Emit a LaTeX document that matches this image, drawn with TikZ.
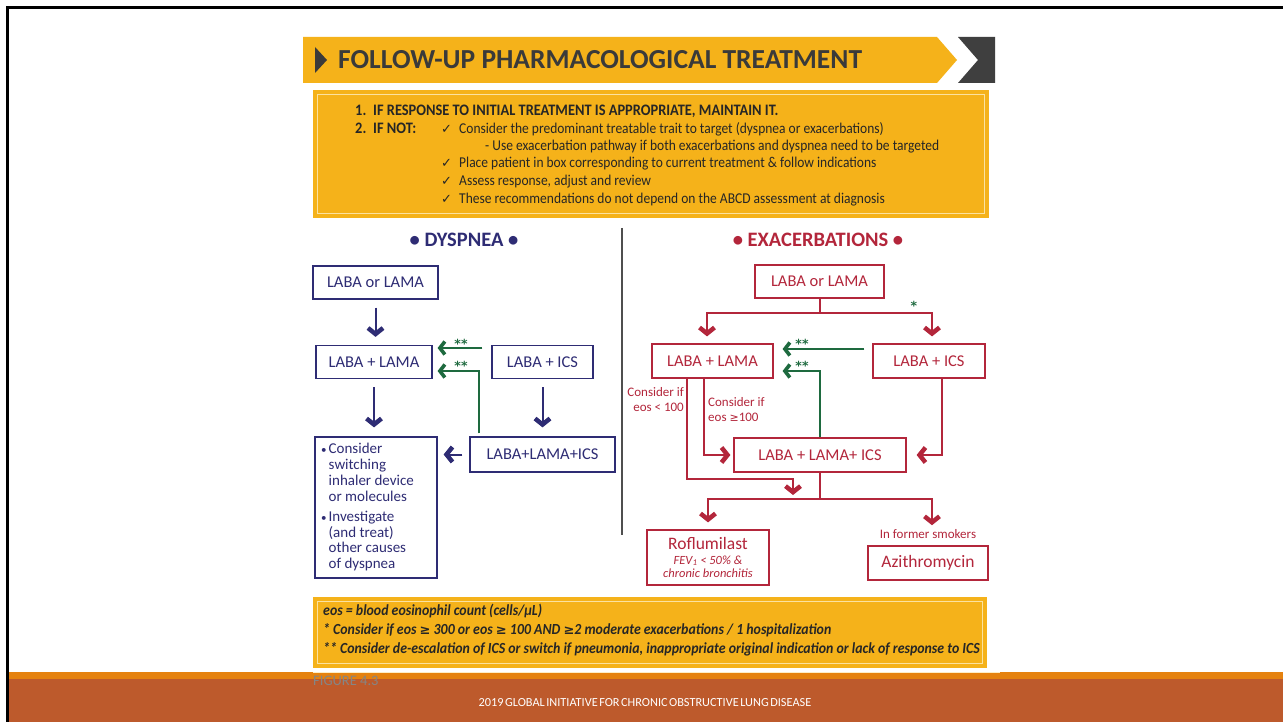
\documentclass[tikz,border=0pt]{standalone}
\usepackage{fontspec}
\setmainfont{Carlito}
\newfontfamily\symfont{DejaVu Sans}
\newfontfamily\cond[FakeStretch=0.9]{Carlito}
\usetikzlibrary{arrows.meta,calc}
\definecolor{gold}{HTML}{F5B21A}
\definecolor{goldline}{HTML}{FBE2A0}
\definecolor{darkchev}{HTML}{3F3F3F}
\definecolor{titletext}{HTML}{3A3A3A}
\definecolor{bodytext}{HTML}{262626}
\definecolor{navy}{HTML}{2E2C74}
\definecolor{crim}{HTML}{B3263B}
\definecolor{dgreen}{HTML}{1E6A3F}
\definecolor{divgray}{HTML}{4F4F4F}
\definecolor{bandorange}{HTML}{E5820F}
\definecolor{bandrust}{HTML}{BD5A2C}
\definecolor{figgray}{HTML}{858585}
\begin{document}
\begin{tikzpicture}[x=1pt,y=-1pt,
  flow/.style={draw, line width=1.2pt, inner sep=0pt, align=center, font=\fontsize{16.5}{19}\selectfont},
  nbox/.style={flow, draw=navy, text=navy},
  rbox/.style={flow, draw=crim, text=crim},
  nline/.style={draw=navy, line width=2pt},
  rline/.style={draw=crim, line width=2pt},
  gline/.style={draw=dgreen, line width=2pt},
  bighead/.style={-{Straight Barb[length=6pt,width=15pt,line width=4.5pt,sharp]}},
  smallhead/.style={-{Straight Barb[length=5pt,width=13pt,line width=3.6pt,sharp]}},
  instr/.style={anchor=base west, inner sep=0pt, text=bodytext, font=\cond\fontsize{15}{17}\selectfont},
  instrb/.style={instr, font=\cond\fontsize{16}{18}\selectfont\bfseries},
  note/.style={anchor=base west, inner sep=0pt, text=bodytext, font=\cond\fontsize{15.4}{17}\selectfont\bfseries\itshape},
  stars/.style={inner sep=0pt, text=dgreen, font=\symfont\fontsize{12.5}{12.5}\selectfont\bfseries},
  rsmall/.style={inner sep=0pt, text=crim, font=\fontsize{13}{15.5}\selectfont},
  header/.style={inner sep=0pt, font=\fontsize{20.5}{24}\selectfont\bfseries},
]
\useasboundingbox (0,0) rectangle (1283,722);
\fill[white] (0,0) rectangle (1283,722);
% frame
\fill[black] (6,6.5) rectangle (1283,9.5);
\fill[black] (6,6.5) rectangle (9,722);
% footer band
\fill[bandorange] (9,672) rectangle (1283,679);
\fill[bandrust] (9,679) rectangle (1283,722);

% ---- title banner
\fill[gold] (303,37) -- (937,37) -- (957,60) -- (937,83) -- (303,83) -- cycle;
\fill[darkchev] (958,37) -- (995,37) -- (995,83) -- (958,83) -- (978,60) -- cycle;
\fill[titletext] (315,47) -- (327,60) -- (315,73) -- cycle;
\node[anchor=base west, inner sep=0pt, text=titletext, font=\fontsize{27.5}{30}\selectfont\bfseries] (title) at (338,69) {FOLLOW-UP PHARMACOLOGICAL TREATMENT};

% ---- instruction box
\fill[gold] (313,90) rectangle (989,218);
\draw[goldline, line width=1.2pt] (317.5,94.5) rectangle (984.5,213.5);
\node[instrb] (n1) at (355,115.8) {1.};
\node[instrb] (n1t) at (373,115.8) {IF RESPONSE TO INITIAL TREATMENT IS APPROPRIATE, MAINTAIN IT.};
\node[instrb] (n2) at (355,133.8) {2.};
\node[instrb] (n2t) at (373,133.8) {IF NOT:};
\node[instr] (k1) at (441,133.8) {{\symfont\fontsize{13}{15}\selectfont ✓}};
\node[instr] (l1) at (459,133.8) {Consider the predominant treatable trait to target (dyspnea or exacerbations)};
\node[instr] (l2) at (485,150.8) {- Use exacerbation pathway if both exacerbations and dyspnea need to be targeted};
\node[instr] (k3) at (441,167.8) {{\symfont\fontsize{13}{15}\selectfont ✓}};
\node[instr] (l3) at (459,167.8) {Place patient in box corresponding to current treatment \& follow indications};
\node[instr] (k4) at (441,185.8) {{\symfont\fontsize{13}{15}\selectfont ✓}};
\node[instr] (l4) at (459,185.8) {Assess response, adjust and review};
\node[instr] (k5) at (441,203.8) {{\symfont\fontsize{13}{15}\selectfont ✓}};
\node[instr] (l5) at (459,203.8) {These recommendations do not depend on the ABCD assessment at diagnosis};

% ---- divider
\draw[divgray, line width=2pt] (622,228) -- (622,535);

% ---- headers
\node[header, text=navy] (hd) at (464,240) {• DYSPNEA •};
\node[header, text=crim] (he) at (818,240) {• EXACERBATIONS •};

% ---- dyspnea side
\node[nbox, minimum width=125pt, minimum height=33pt] (D1) at (375.5,282.5) {LABA or LAMA};
\node[nbox, minimum width=116pt, minimum height=33pt] (D2) at (374,362) {LABA + LAMA};
\node[nbox, minimum width=101pt, minimum height=33pt] (D3) at (542.5,362) {LABA + ICS};
\node[nbox, minimum width=145pt, minimum height=35pt] (D4) at (542.5,454.5) {LABA+LAMA+ICS};
\node[nbox, minimum width=122pt, minimum height=141pt] (D5) at (376,507.5) {};
\node[anchor=north west, inner sep=0pt, align=left, text=navy, font=\fontsize{15}{15.8}\selectfont] (D5t) at (321,443) {%
\makebox[7.5pt][l]{\fontsize{11}{11}\selectfont•}Consider\\
\hspace*{7.5pt}switching\\
\hspace*{7.5pt}inhaler device\\
\hspace*{7.5pt}or molecules\\[4.5pt]
\makebox[7.5pt][l]{\fontsize{11}{11}\selectfont•}Investigate\\
\hspace*{7.5pt}(and treat)\\
\hspace*{7.5pt}other causes\\
\hspace*{7.5pt}of dyspnea};

\draw[nline, bighead, shorten <=8pt, shorten >=8pt] (D1.south) -- (D1.south |- D2.north);
\draw[nline, bighead, shorten <=8pt, shorten >=9pt] (D2.south) -- (D2.south |- D5.north);
\draw[nline, bighead, shorten <=8pt, shorten >=9pt] (D3.south) -- (D3.south |- D4.north);
\draw[nline, bighead, shorten <=7pt, shorten >=6pt] (D4.west) -- (D4.west -| D5.east);

\draw[gline, smallhead, shorten <=9pt, shorten >=5pt] ([yshift=14pt]D3.west) -- ([yshift=14pt]D2.east);
\draw[gline, smallhead, shorten <=3pt, shorten >=5pt] ([xshift=10pt]D4.north west) |- ([yshift=-9pt]D2.east);
\node[stars] (sd1) at (461,343.5) {**};
\node[stars] (sd2) at (461,365.5) {**};

% ---- exacerbation side
\node[rbox, minimum width=129pt, minimum height=33pt] (E1) at (819.5,281.5) {LABA or LAMA};
\node[rbox, minimum width=121pt, minimum height=34pt] (E2) at (712.5,361) {LABA + LAMA};
\node[rbox, minimum width=112pt, minimum height=34pt] (E3) at (929,361) {LABA + ICS};
\node[rbox, minimum width=172pt, minimum height=34pt] (E4) at (820,455) {LABA + LAMA+ ICS};
\node[rbox, minimum width=122pt, minimum height=55pt] (E5) at (708,557.5) {};
\node[anchor=base, inner sep=0pt, text=crim, font=\fontsize{17.5}{20}\selectfont] (E5a) at (708,549) {Roflumilast};
\node[anchor=base, inner sep=0pt, text=crim, font=\fontsize{12.5}{14}\selectfont\itshape] (E5b) at (708,564) {FEV\textsubscript{1} < 50\% \&};
\node[anchor=base, inner sep=0pt, text=crim, font=\fontsize{12.5}{14}\selectfont\itshape] (E5c) at (708,577) {chronic bronchitis};
\node[rbox, minimum width=120pt, minimum height=34pt, font=\fontsize{17.5}{20}\selectfont] (E6) at (928,563) {Azithromycin};
\node[rsmall] (smk) at (928,534) {In former smokers};

\draw[rline] (E1.south) -- ++(0,14) coordinate (b1);
\draw[rline, bighead, shorten >=7pt] (b1) -| ([xshift=-5.5pt]E2.north);
\draw[rline, bighead, shorten >=7pt] (b1) -| ([xshift=3pt]E3.north);
\node[stars] (se0) at (914,305.5) {*};

\coordinate (j1) at ($(E2.south)+(-25.5,100)$);
\coordinate (jt) at (793,495);
\draw[rline, bighead] ([xshift=-25.5pt]E2.south) -- (j1) -| (jt);
\draw[rline, bighead, shorten >=3pt] ([xshift=-8.5pt]E2.south) |- (E4.west);
\draw[rline, bighead, shorten >=10pt] ([xshift=13pt]E3.south) |- (E4.east);

\draw[rline] (E4.south) -- ++(0,26) coordinate (b2);
\draw[rline, bighead, shorten >=7pt] (b2) -| (E5.north);
\draw[rline, bighead, shorten >=4pt] (b2) -| ([xshift=4pt]smk.north);

\node[rsmall, anchor=north east, align=right] (lt) at (684,387) {Consider if\\eos < 100};
\node[rsmall, anchor=north west, align=left] (ge) at (708,397) {Consider if\\eos {\symfont\fontsize{11}{13}\selectfont ≥}100};

\draw[gline, smallhead, shorten <=8pt, shorten >=9pt] ([yshift=12pt]E3.west) -- ([yshift=12pt]E2.east);
\draw[gline, smallhead, shorten >=9pt] (E4.north) |- ([yshift=-10pt]E2.east);
\node[stars] (se1) at (802,343.5) {**};
\node[stars] (se2) at (802,365.5) {**};

% ---- notes box
\fill[gold] (313,597) rectangle (987,668);
\draw[goldline, line width=1.2pt] (317.5,601.5) rectangle (982.5,663.5);
\node[note] (m1) at (323,615.5) {eos = blood eosinophil count (cells/µL)};
\node[note] (m2) at (323,634.5) {* Consider if eos {\symfont\fontsize{13}{15}\selectfont ≥} 300 or eos {\symfont\fontsize{13}{15}\selectfont ≥} 100 AND {\symfont\fontsize{13}{15}\selectfont ≥}2 moderate exacerbations / 1 hospitalization};
\node[note] (m3) at (323,653.5) {** Consider de-escalation of ICS or switch if pneumonia, inappropriate original indication or lack of response to ICS};

% ---- footer
\draw[goldline!60!white, line width=1.5pt] (313,672.5) -- (1000,672.5);
\node[anchor=west, inner sep=0pt, text=figgray, font=\fontsize{14.5}{16}\selectfont] (fig) at (313,681) {FIGURE 4.3};
\node[inner sep=0pt, text=white, font=\fontsize{12.3}{14}\selectfont] (foot) at (645,703) {\spaceskip=1.5pt 2019 GLOBAL INITIATIVE FOR CHRONIC OBSTRUCTIVE LUNG DISEASE};
\end{tikzpicture}
\end{document}
